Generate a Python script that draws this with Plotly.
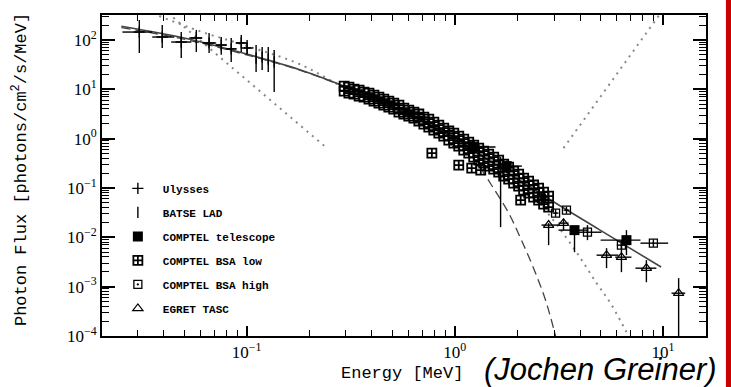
import plotly.graph_objects as go

# ---- model curves ----
solid_e = [0.025, 0.05, 0.1, 0.18, 0.31, 0.54, 1.0, 1.6, 2.8, 4.9, 9.8]
solid_f = [190, 110, 52, 25, 10.6, 3.8, 1.03, 0.28, 0.062, 0.0147, 0.0025]

dash_e = [0.025, 0.05, 0.1, 0.18, 0.31, 0.54, 1.0, 1.23, 1.5, 1.815, 2.07, 2.39, 2.73, 3.05]
dash_f = [178, 104, 50, 24.5, 10.4, 3.7, 0.98, 0.40, 0.115, 0.031, 0.0096, 0.00237, 0.00053, 0.0001]

dotA_e = [0.0372, 0.243]
dotA_f = [537, 0.644]

dotB_e = [0.038, 0.0592, 0.1005, 0.179, 0.31, 0.539, 1.0, 1.625, 2.264, 2.672, 3.153, 3.93, 4.80, 5.60, 6.61, 6.83]
dotB_f = [307, 152, 75.5, 32.6, 9.68, 3.63, 0.853, 0.231, 0.0826, 0.0391, 0.0161, 0.00435, 0.00118, 0.000462, 0.000131, 0.0001]

dotC_e = [3.33, 10.4]
dotC_f = [0.645, 513]

# ---- Ulysses ----
uly_e = [0.0305, 0.0393, 0.0485, 0.0573, 0.066, 0.0755, 0.0843, 0.0942, 0.1005]
uly_e_lo = [0.0253, 0.0352, 0.0434, 0.053, 0.0612, 0.071, 0.080, 0.089, 0.097]
uly_e_hi = [0.0352, 0.0449, 0.0542, 0.0612, 0.0714, 0.080, 0.089, 0.099, 0.105]
uly_f = [145, 115, 91, 110, 87, 79, 66, 87, 69]
uly_f_lo = [54.5, 69, 43, 57, 54.5, 50, 36, 57, 50]
uly_f_hi = [255, 201, 145, 160, 139, 115, 110, 126, 100]

# ---- BATSE LAD ----
batse_e = [0.111, 0.1187, 0.127, 0.1356, 1.66]
batse_f = [43, 45, 41, 36, 0.183]
batse_f_lo = [22.4, 24.6, 22.4, 8.8, 0.0161]
batse_f_hi = [79, 72, 72, 63, 0.424]

# ---- COMPTEL telescope ----
tel_e = [1.233, 1.776, 3.76, 6.68]
tel_e_lo = [0.97, 1.6, 3.15, 5.02]
tel_e_hi = [1.57, 2.1, 4.39, 7.8]
tel_f = [0.676, 0.278, 0.0140, 0.00877]
tel_f_lo = [0.5, 0.2, 0.00501, 0.00435]
tel_f_hi = [0.9, 0.36, 0.017, 0.0140]

# ---- COMPTEL BSA low ----
bsa_e = [0.294, 0.310, 0.328, 0.347, 0.366, 0.387, 0.409, 0.432, 0.456, 0.482,
         0.509, 0.539, 0.569, 0.601, 0.636, 0.672, 0.710, 0.750, 0.793, 0.838,
         0.885, 0.936, 0.989, 1.045, 1.104, 1.167, 1.233, 1.303, 1.377, 1.455,
         1.538, 1.625, 1.718, 1.815, 1.918, 2.027, 2.142, 2.264, 2.392, 2.528,
         2.672, 2.824]
bsa_f_up = [11.67, 11.13, 10.14, 9.68, 8.82, 8.41, 7.66, 6.98, 6.36, 5.79,
            5.27, 4.80, 4.18, 3.80, 3.46, 3.16, 2.74, 2.50, 2.17, 1.89,
            1.64, 1.43, 1.30, 1.13, 0.981, 0.853, 0.742, 0.645, 0.560, 0.487,
            0.423, 0.368, 0.305, 0.265, 0.220, 0.191, 0.159, 0.138, 0.115, 0.0995,
            0.0826, 0.0685]
bsa_f_dn = [9.24, 8.41, 8.03, 7.31, 6.98, 6.36, 5.79, 5.27, 4.80, 4.38,
            3.99, 3.46, 3.16, 2.87, 2.62, 2.28, 1.98, 1.72, 1.49, 1.30,
            1.13, 0.937, 0.814, 0.708, 0.587, 0.510, 0.423, 0.368, 0.320, 0.278,
            0.242, 0.210, 0.174, 0.152, 0.126, 0.109, 0.0907, 0.0788, 0.0654, 0.0568,
            0.0471, 0.0410]
bsa_out_e = [0.776, 1.045, 1.206, 1.333, 2.073]
bsa_out_f = [0.510, 0.291, 0.253, 0.231, 0.0568]

# ---- COMPTEL BSA high ----
bsah_e = [2.61, 3.05, 3.44, 4.34, 6.32, 9.0]
bsah_e_lo = [2.55, 2.95, 3.33, 3.93, 6.0, 7.8]
bsah_e_hi = [2.7, 3.15, 3.55, 5.07, 6.6, 10.6]
bsah_f = [0.0624, 0.031, 0.0356, 0.0127, 0.00695, 0.00762]
bsah_f_lo = [0.045, 0.026, 0.030, 0.00877, 0.0058, 0.0064]
bsah_f_hi = [0.08, 0.037, 0.042, 0.0177, 0.0083, 0.0091]

# ---- EGRET TASC ----
egr_e = [2.824, 3.33, 5.36, 6.32, 8.33, 11.9]
egr_e_lo = [2.61, 3.15, 4.8, 5.9, 7.38, 11.0]
egr_e_hi = [3.15, 3.52, 6.12, 7.06, 9.3, 12.8]
egr_f = [0.0177, 0.0194, 0.00435, 0.00396, 0.00237, 0.000738]
egr_f_lo = [0.00695, 0.0140, 0.00237, 0.00197, 0.00123, 0.0001]
egr_f_hi = [0.0194, 0.0230, 0.00604, 0.00877, 0.00345, 0.00149]

# tick labels
y_ticks = [1e-4, 1e-3, 1e-2, 1e-1, 1, 10, 100]
y_text = ['10<sup>−4</sup>', '10<sup>−3</sup>', '10<sup>−2</sup>', '10<sup>−1</sup>',
          '10<sup>0</sup>', '10<sup>1</sup>', '10<sup>2</sup>']
x_ticks = [0.1, 1, 10]
x_text = ['10<sup>−1</sup>', '10<sup>0</sup>', '10<sup>1</sup>']


def err(v, lo, hi):
    return dict(type='data', symmetric=False,
                array=[h - c for c, h in zip(v, hi)],
                arrayminus=[c - l for c, l in zip(v, lo)],
                thickness=1.4, width=0, color='black')


fig = go.Figure()

# model curves
fig.add_trace(go.Scatter(x=dotA_e, y=dotA_f, mode='lines', showlegend=False, cliponaxis=False,
                         line=dict(color='#888888', width=2, dash='2px,5px')))
fig.add_trace(go.Scatter(x=dotB_e, y=dotB_f, mode='lines', showlegend=False, line_shape='spline',
                         line=dict(color='#888888', width=2, dash='2px,5px')))
fig.add_trace(go.Scatter(x=dotC_e, y=dotC_f, mode='lines', showlegend=False, cliponaxis=False,
                         line=dict(color='#888888', width=2, dash='2px,5px')))
fig.add_trace(go.Scatter(x=dash_e, y=dash_f, mode='lines', showlegend=False, line_shape='spline',
                         line=dict(color='#444444', width=1.3, dash='9px,5px')))
fig.add_trace(go.Scatter(x=solid_e, y=solid_f, mode='lines', showlegend=False, line_shape='spline',
                         line=dict(color='#444444', width=1.6)))

# data
fig.add_trace(go.Scatter(x=uly_e, y=uly_f, mode='markers', name='Ulysses', legendgroup='a',
                         marker=dict(symbol='cross-thin-open', size=8, color='black', line=dict(width=1.4, color='black')),
                         error_x=err(uly_e, uly_e_lo, uly_e_hi), error_y=err(uly_f, uly_f_lo, uly_f_hi)))
fig.add_trace(go.Scatter(x=batse_e, y=batse_f, mode='markers', name='BATSE LAD', legendgroup='b',
                         marker=dict(symbol='line-ns-open', size=8, color='black', line=dict(width=1.4, color='black')),
                         error_y=err(batse_f, batse_f_lo, batse_f_hi)))
fig.add_trace(go.Scatter(x=tel_e, y=tel_f, mode='markers', name='COMPTEL telescope', legendgroup='c',
                         marker=dict(symbol='square', size=10, color='black'),
                         error_x=err(tel_e, tel_e_lo, tel_e_hi), error_y=err(tel_f, tel_f_lo, tel_f_hi)))
fig.add_trace(go.Scatter(x=bsa_e + bsa_e + bsa_out_e, y=bsa_f_up + bsa_f_dn + bsa_out_f, mode='markers',
                         name='COMPTEL BSA low', legendgroup='d',
                         marker=dict(symbol='square-cross-open', size=9, color='black', line=dict(width=1.8, color='black'))))
fig.add_trace(go.Scatter(x=bsah_e, y=bsah_f, mode='markers', name='COMPTEL BSA high', legendgroup='e',
                         marker=dict(symbol='square-open-dot', size=8, color='black', line=dict(width=1.3, color='black')),
                         error_x=err(bsah_e, bsah_e_lo, bsah_e_hi), error_y=err(bsah_f, bsah_f_lo, bsah_f_hi)))
fig.add_trace(go.Scatter(x=egr_e, y=egr_f, mode='markers', name='EGRET TASC', legendgroup='f',
                         marker=dict(symbol='triangle-up-open', size=9, color='black', line=dict(width=1.2, color='#333333')),
                         error_x=err(egr_e, egr_e_lo, egr_e_hi), error_y=err(egr_f, egr_f_lo, egr_f_hi)))

axis_common = dict(type='log', showline=True, linewidth=2, linecolor='black', mirror='ticks',
                   ticks='inside', tickwidth=1.5, tickcolor='black', showgrid=False, zeroline=False,
                   tickfont=dict(family='Liberation Serif', size=17, color='black'))

fig.update_layout(
    width=731, height=387,
    margin=dict(l=102, r=25, t=15, b=51),
    paper_bgcolor='white', plot_bgcolor='white',
    xaxis=dict(axis_common, range=[-1.695, 1.207], tickvals=x_ticks, ticktext=x_text, ticklen=10,
               minor=dict(ticks='inside', ticklen=6, tickwidth=1.2, tickcolor='black',
                          tickvals=[0.03, 0.04, 0.05, 0.06, 0.07, 0.08, 0.09,
                                    0.2, 0.3, 0.4, 0.5, 0.6, 0.7, 0.8, 0.9,
                                    2, 3, 4, 5, 6, 7, 8, 9])),
    yaxis=dict(axis_common, range=[-4, 2.507], tickvals=y_ticks, ticktext=y_text, ticklen=13,
               minor=dict(ticks='inside', ticklen=7, tickwidth=1.2, tickcolor='black',
                          tickvals=[m * 10.0 ** d for d in range(-4, 3) for m in range(2, 10)])),
    legend=dict(x=0.018, y=0.505, xanchor='left', yanchor='top', bgcolor='rgba(0,0,0,0)',
                tracegroupgap=5, itemwidth=40,
                font=dict(family='Liberation Mono', size=11, color='black', weight='bold')),
    showlegend=True,
)

fig.add_annotation(text='Photon Flux [photons/cm<sup>2</sup>/s/MeV]', textangle=-90,
                   xref='paper', yref='paper', x=-0.1358, y=0.52, xanchor='center', yanchor='middle',
                   showarrow=False, font=dict(family='Liberation Mono', size=17, color='black'))
fig.add_annotation(text='Energy [MeV]', xref='paper', yref='paper', x=0.497, y=-0.118,
                   xanchor='center', yanchor='middle', showarrow=False,
                   font=dict(family='Liberation Mono', size=17, color='black'))
fig.add_annotation(text='<i>(Jochen Greiner)</i>', xref='paper', yref='paper', x=0.826, y=-0.103,
                   xanchor='center', yanchor='middle', showarrow=False,
                   font=dict(family='Liberation Sans', size=31, color='black'))

# red strip on the right edge
fig.add_shape(type='rect', xref='paper', yref='paper', x0=1.033, x1=1.05, y0=-0.2, y1=1.1,
              fillcolor='#cc0000', line_width=0)

fig.write_html("out.html", config={'displayModeBar': False},
               post_script="document.body.style.margin='0px';")
